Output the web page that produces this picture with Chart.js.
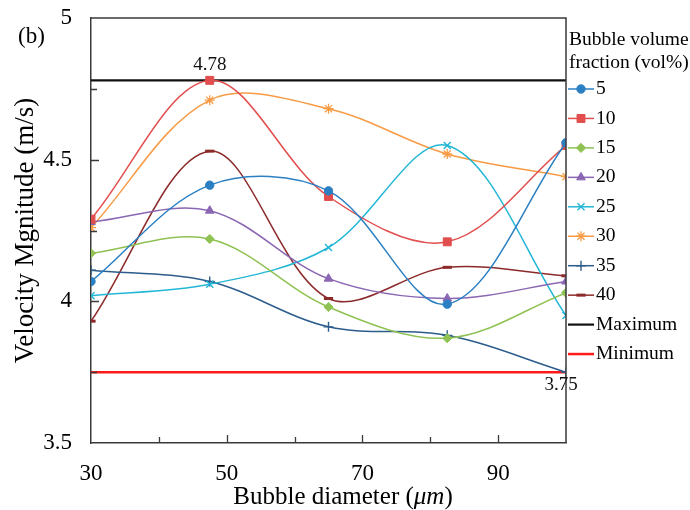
<!DOCTYPE html>
<html>
<head>
<meta charset="utf-8">
<script src="https://cdn.jsdelivr.net/npm/chart.js@4/dist/chart.umd.min.js"></script>
<style>
  html, body { margin: 0; padding: 0; background: #ffffff; }
  #wrap { width: 690px; height: 510px; position: relative; }
</style>
</head>
<body>
<div id="wrap"><canvas id="chart" width="690" height="510"></canvas></div>
<script>
// Bubble diameter (µm) at which velocity was sampled
const diameters = [30, 47.5, 65, 82.5, 100];

// Bubble volume fractions (vol%)
const fractionLabels = ['5', '10', '15', '20', '25', '30', '35', '40'];

// Velocity magnitude (m/s) for each volume fraction
const vel5  = [4.07, 4.41, 4.39, 3.99, 4.56];
const vel10 = [4.29, 4.78, 4.37, 4.21, 4.55];
const vel15 = [4.17, 4.22, 3.98, 3.87, 4.03];
const vel20 = [4.28, 4.32, 4.08, 4.01, 4.07];
const vel25 = [4.02, 4.06, 4.19, 4.55, 3.95];
const vel30 = [4.26, 4.71, 4.68, 4.52, 4.44];
const vel35 = [4.11, 4.07, 3.91, 3.88, 3.75];
const vel40 = [3.93, 4.53, 4.01, 4.12, 4.09];

// Overall extremes
const maxVelocity = 4.78;
const minVelocity = 3.75;

// Axis ranges and labelled ticks
const xRange = [30, 100];
const yRange = [3.5, 5];
const xTickLabels = [30, 50, 70, 90];
const yTickLabels = [3.5, 4, 4.5, 5];

const SERIF = "'Liberation Serif', 'Times New Roman', serif";

const seriesValues = [vel5, vel10, vel15, vel20, vel25, vel30, vel35, vel40];
const seriesStyles = [
  { color: '#2b80c3', point: 'circle',   radius: 4.2, bw: 1 },
  { color: '#e24d4d', point: 'rect',     radius: 5.6, bw: 1 },
  { color: '#8fc253', point: 'rectRot',  radius: 4.6, bw: 1 },
  { color: '#8a66b3', point: 'triangle', radius: 5,   bw: 1 },
  { color: '#23b7d6', point: 'crossRot', radius: 5,   bw: 1.4 },
  { color: '#f89b45', point: 'star',     radius: 5,   bw: 1.3 },
  { color: '#2c5c8c', point: 'cross',    radius: 5,   bw: 1.4 },
  { color: '#8c2a2a', point: 'line',     radius: 4.6, bw: 3 }
];

const toPoints = vals => diameters.map((d, i) => ({ x: d, y: vals[i] }));

const datasets = seriesValues.map((vals, i) => ({
  label: fractionLabels[i],
  data: toPoints(vals),
  borderColor: seriesStyles[i].color,
  backgroundColor: seriesStyles[i].color,
  pointBackgroundColor: seriesStyles[i].color,
  pointBorderColor: seriesStyles[i].color,
  pointStyle: seriesStyles[i].point,
  pointRadius: seriesStyles[i].radius,
  pointBorderWidth: seriesStyles[i].bw,
  borderWidth: 1.5,
  tension: 0.34,
  fill: false
}));

datasets.push({
  label: 'Maximum',
  data: [{ x: xRange[0], y: maxVelocity }, { x: xRange[1], y: maxVelocity }],
  borderColor: '#111111',
  borderWidth: 2.2,
  pointRadius: 0,
  tension: 0,
  fill: false
});
datasets.push({
  label: 'Minimum',
  data: [{ x: xRange[0], y: minVelocity }, { x: xRange[1], y: minVelocity }],
  borderColor: '#ff1a1a',
  borderWidth: 2.5,
  pointRadius: 0,
  tension: 0,
  fill: false
});

// Frame on top/right plus inward tick marks on both axes
const frameAndTicks = {
  id: 'frameAndTicks',
  afterDatasetsDraw(chart) {
    const { ctx, chartArea: a, scales: { x, y } } = chart;
    ctx.save();
    ctx.strokeStyle = '#3a3a3a';
    ctx.lineWidth = 1.5;
    ctx.beginPath();
    ctx.moveTo(a.left, a.top);
    ctx.lineTo(a.right, a.top);
    ctx.lineTo(a.right, a.bottom);
    ctx.stroke();

    ctx.lineWidth = 1.3;
    ctx.beginPath();
    y.ticks.forEach(t => {
      if (t.value <= yRange[0] || t.value >= yRange[1]) return;
      const len = yTickLabels.includes(t.value) ? 8 : 6;
      const py = Math.round(y.getPixelForValue(t.value)) + 0.5;
      ctx.moveTo(a.left, py);
      ctx.lineTo(a.left + len, py);
    });
    x.ticks.forEach(t => {
      if (t.value <= xRange[0] || t.value >= xRange[1]) return;
      const len = xTickLabels.includes(t.value) ? 8 : 6;
      const px = Math.round(x.getPixelForValue(t.value)) + 0.5;
      ctx.moveTo(px, a.bottom);
      ctx.lineTo(px, a.bottom - len);
    });
    ctx.stroke();
    ctx.restore();
  }
};

// Value labels for the maximum and minimum lines, panel tag and x-axis title
const textLayer = {
  id: 'textLayer',
  afterDraw(chart) {
    const { ctx, scales: { x, y } } = chart;
    ctx.save();
    ctx.fillStyle = '#111111';
    ctx.font = '19px ' + SERIF;
    ctx.textAlign = 'center';
    ctx.textBaseline = 'middle';
    const maxAt = diameters[vel10.indexOf(maxVelocity)];
    ctx.fillText(maxVelocity.toFixed(2), x.getPixelForValue(maxAt), y.getPixelForValue(maxVelocity) - 15);
    const minAt = diameters[vel35.indexOf(minVelocity)];
    ctx.fillText(minVelocity.toFixed(2), x.getPixelForValue(minAt) - 5, y.getPixelForValue(minVelocity) + 13);

    ctx.font = '23px ' + SERIF;
    ctx.textAlign = 'left';
    ctx.fillStyle = '#000000';
    ctx.fillText('(b)', 18, 37);

    // x-axis title with italic unit
    const parts = [
      { t: 'Bubble diameter (', f: '25px ' + SERIF },
      { t: '\u03bcm', f: 'italic 25px ' + SERIF },
      { t: ')', f: '25px ' + SERIF }
    ];
    let total = 0;
    parts.forEach(p => { ctx.font = p.f; p.w = ctx.measureText(p.t).width; total += p.w; });
    let cx = 343 - total / 2;
    parts.forEach(p => { ctx.font = p.f; ctx.fillText(p.t, cx, 497); cx += p.w; });
    ctx.restore();
  }
};

// Legend to the right of the plot: line segment with marker, then label
const sideLegend = {
  id: 'sideLegend',
  afterDraw(chart) {
    const { ctx } = chart;
    const x0 = 568, x1 = 594, xm = 581, xt = 596;
    ctx.save();
    ctx.fillStyle = '#000000';
    ctx.font = '19.5px ' + SERIF;
    ctx.textBaseline = 'middle';
    ctx.textAlign = 'left';
    ctx.fillText('Bubble volume', 569, 40);
    ctx.fillText('fraction (vol%)', 569, 63);
    chart.data.datasets.forEach((ds, i) => {
      const yy = 89 + i * 29.45;
      ctx.strokeStyle = ds.borderColor;
      ctx.lineWidth = ds.borderWidth;
      ctx.beginPath();
      ctx.moveTo(x0, yy);
      ctx.lineTo(x1, yy);
      ctx.stroke();
      if (ds.pointRadius > 0) {
        ctx.fillStyle = ds.pointBackgroundColor;
        ctx.strokeStyle = ds.pointBorderColor;
        ctx.lineWidth = ds.pointBorderWidth;
        Chart.helpers.drawPoint(ctx, {
          pointStyle: ds.pointStyle,
          radius: ds.pointRadius,
          rotation: 0,
          borderWidth: ds.pointBorderWidth
        }, xm, yy);
      }
      ctx.fillStyle = '#000000';
      ctx.fillText(ds.label, xt, yy);
    });
    ctx.restore();
  }
};

new Chart(document.getElementById('chart'), {
  type: 'line',
  data: { datasets },
  options: {
    responsive: false,
    animation: false,
    devicePixelRatio: 1,
    layout: { padding: { top: 18, right: 124, left: 0, bottom: 0 } },
    plugins: {
      legend: { display: false },
      tooltip: { enabled: false }
    },
    scales: {
      x: {
        type: 'linear',
        min: xRange[0],
        max: xRange[1],
        afterFit(scale) {
          scale.height = 67;
          scale.paddingLeft = 0;
          scale.paddingRight = 0;
        },
        border: { display: true, color: '#3a3a3a', width: 1.5 },
        grid: { display: true, drawOnChartArea: false, drawTicks: false, color: 'rgba(0,0,0,0)' },
        ticks: {
          stepSize: 10,
          autoSkip: false,
          maxRotation: 0,
          padding: 17,
          color: '#000000',
          font: { family: SERIF, size: 23 },
          callback: v => xTickLabels.includes(v) ? String(v) : ''
        }
      },
      y: {
        type: 'linear',
        min: yRange[0],
        max: yRange[1],
        afterFit(scale) {
          scale.width = 91;
          scale.paddingTop = 0;
          scale.paddingBottom = 0;
        },
        border: { display: true, color: '#3a3a3a', width: 1.5 },
        grid: { display: true, drawOnChartArea: false, drawTicks: false, color: 'rgba(0,0,0,0)' },
        ticks: {
          stepSize: 0.25,
          autoSkip: false,
          padding: 19,
          color: '#000000',
          font: { family: SERIF, size: 23 },
          callback: v => yTickLabels.includes(v) ? String(v) : ''
        },
        title: {
          display: true,
          text: 'Velocity Mgnitude (m/s)',
          color: '#000000',
          font: { family: SERIF, size: 27 },
          padding: { top: 10, bottom: 0 }
        }
      }
    }
  },
  plugins: [frameAndTicks, textLayer, sideLegend]
});
</script>
</body>
</html>
